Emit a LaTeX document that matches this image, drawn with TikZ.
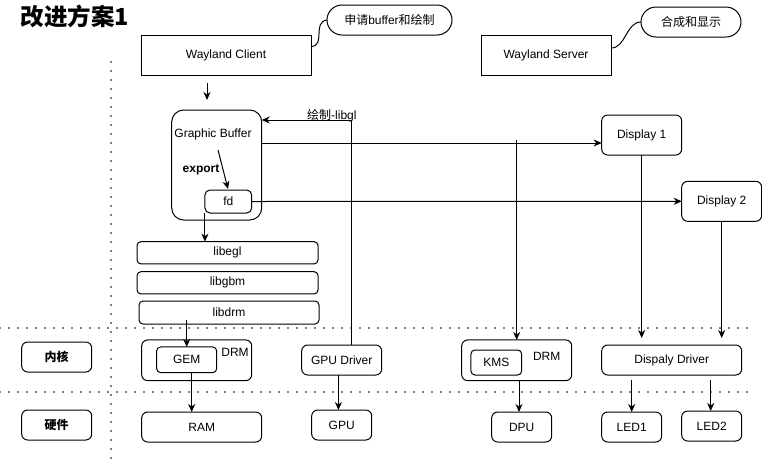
\documentclass[tikz,border=0pt]{standalone}
\usepackage{fontspec}
\setmainfont{Liberation Sans}
\newfontfamily\cjk{Noto Sans CJK SC}
\usetikzlibrary{arrows.meta,calc}
\begin{document}
\begin{tikzpicture}[x=1pt,y=-1pt,font=\fontsize{12}{14}\selectfont,line width=1pt,
  box/.style={draw,inner sep=0pt,outer sep=0pt,align=center},
  rbox/.style={box,rounded corners=6pt},
  pill/.style={box,rounded corners=15pt},
  arr/.style={-{Stealth[length=8pt,width=7pt,inset=2.5pt]}},
  dotline/.style={line width=1.8pt,dash pattern=on 0pt off 9pt,line cap=round},
  lbl/.style={inner sep=0pt,outer sep=0pt}]
\useasboundingbox (0,0) rectangle (762,464);

% title
\node[lbl,font=\cjk\bfseries\fontsize{23.5}{26}\selectfont] (title) at (75,16) {改进方案1};

% dotted separators
\draw[dotline] (111,62) -- (111,462);
\draw[dotline] (0,328) -- (750,328);
\draw[dotline] (0,392) -- (750,392);

% top boxes
\node[box,minimum width=170pt,minimum height=40pt] (wc) at (226,55) {Wayland Client};
\node[box,minimum width=130pt,minimum height=40pt] (ws) at (546,55) {Wayland Server};
\node[pill,minimum width=125pt,minimum height=30pt] (c1) at (389.5,20) {{\cjk 申请}buffer{\cjk 和绘制}};
\node[pill,minimum width=100pt,minimum height=30pt,font=\cjk\fontsize{12}{14}\selectfont] (c2) at (691,22) {合成和显示};
\draw (wc.east |- 0,46.5) .. controls (326,46) and (312,22) .. (c1.west);
\draw (ws.east |- 0,48) .. controls (626,48) and (626,22) .. (c2.west);

% graphic buffer
\node[rbox,rounded corners=12pt,minimum width=90pt,minimum height=110pt] (gb) at (216.7,165) {};
\node[lbl] (gbt) at (213,134) {Graphic Buffer};
\node[lbl,font=\bfseries\fontsize{12}{14}\selectfont] (exp) at (201,170) {export};
\node[rbox,rounded corners=5pt,minimum width=46.7pt,minimum height=23pt] (fd) at (228.3,201.5) {fd};

\coordinate (a1) at (207,83);
\coordinate (a2) at (207,100);
\draw[arr] (a1) -- (a2);
\coordinate (e1) at (218,150);
\coordinate (e2) at (228,189);
\draw[arr] (e1) -- (e2);

% displays
\node[rbox,minimum width=80pt,minimum height=40pt] (d1) at (641.7,135) {Display 1};
\node[rbox,minimum width=80pt,minimum height=40pt] (d2) at (721.7,201.3) {Display 2};

% libs
\node[rbox,rounded corners=4pt,minimum width=181pt,minimum height=22.3pt] (egl) at (227.5,252.8) {libegl};
\node[rbox,rounded corners=4pt,minimum width=181pt,minimum height=22.3pt] (gbm) at (227.5,282.8) {libgbm};
\node[rbox,rounded corners=4pt,minimum width=180pt,minimum height=23pt] (drm) at (229,312.5) {libdrm};

% kernel row
\node[rbox,minimum width=70pt,minimum height=30pt,font=\cjk\bfseries\fontsize{12}{14}\selectfont] (kern) at (56.7,357) {内核};
\node[rbox,minimum width=110pt,minimum height=40.7pt] (drmk) at (196.7,360.3) {};
\node[rbox,rounded corners=4pt,minimum width=60pt,minimum height=25.7pt] (gem) at (186.7,359.8) {GEM};
\node[lbl] (drml) at (235,352) {DRM};
\node[rbox,minimum width=80pt,minimum height=30pt] (gpud) at (341.7,360) {GPU Driver};
\node[rbox,minimum width=110pt,minimum height=40.7pt] (drm2) at (516.7,360.3) {};
\node[rbox,rounded corners=4pt,minimum width=50.7pt,minimum height=25pt] (kms) at (496.3,362.5) {KMS};
\node[lbl] (drml2) at (546.7,356.7) {DRM};
\node[rbox,minimum width=140pt,minimum height=30pt] (dd) at (671.7,360) {Dispaly Driver};

% hardware row
\node[rbox,minimum width=70pt,minimum height=30pt,font=\cjk\bfseries\fontsize{12}{14}\selectfont] (hw) at (56.7,425) {硬件};
\node[rbox,minimum width=120pt,minimum height=30pt] (ram) at (201.7,427) {RAM};
\node[rbox,minimum width=60pt,minimum height=30pt] (gpu) at (341.7,425) {GPU};
\node[rbox,minimum width=60pt,minimum height=30pt] (dpu) at (521.7,427) {DPU};
\node[rbox,minimum width=60pt,minimum height=30pt] (led1) at (631.7,427) {LED1};
\node[rbox,minimum width=60pt,minimum height=30pt] (led2) at (711.7,426) {LED2};

% connectors
\draw[arr] (fd.south west) -- (fd.south west |- egl.north);
\draw[arr] ([xshift=10pt]gpud.north) |- ($(gb.north east)+(0,10)$)
  node[pos=0.61,above=-1.5pt,lbl] {{\cjk 绘制}-libgl};
\draw[arr] ($(gb.north east)+(0,33)$) -- ($(d1.north west)+(0,28)$);
\draw[arr] (fd.east) -- (d2.west);
\coordinate (k1) at (516.7,140);
\draw[arr] (k1) -- (drm2.north);
\draw[arr] (d1.south) -- (d1.south |- 0,338);
\draw[arr] (d2.south) -- (d2.south |- 0,338);
\coordinate (g1) at (186.7,320);
\draw[arr] (g1) -- (gem.north);
\draw[arr] ([xshift=5pt]gem.south) -- ([xshift=5pt]gem.south |- ram.north);
\draw[arr] ([xshift=-3.3pt]gpud.south) -- ([xshift=-3.3pt]gpud.south |- gpu.north);
\draw[arr] ([xshift=2.3pt]drm2.south) -- ([xshift=2.3pt]drm2.south |- dpu.north);
\coordinate (l1) at (631.7,380);
\coordinate (l2) at (710.7,380);
\draw[arr] (l1) -- (led1.north);
\draw[arr] (l2) -- (l2 |- led2.north);
\end{tikzpicture}
\end{document}
